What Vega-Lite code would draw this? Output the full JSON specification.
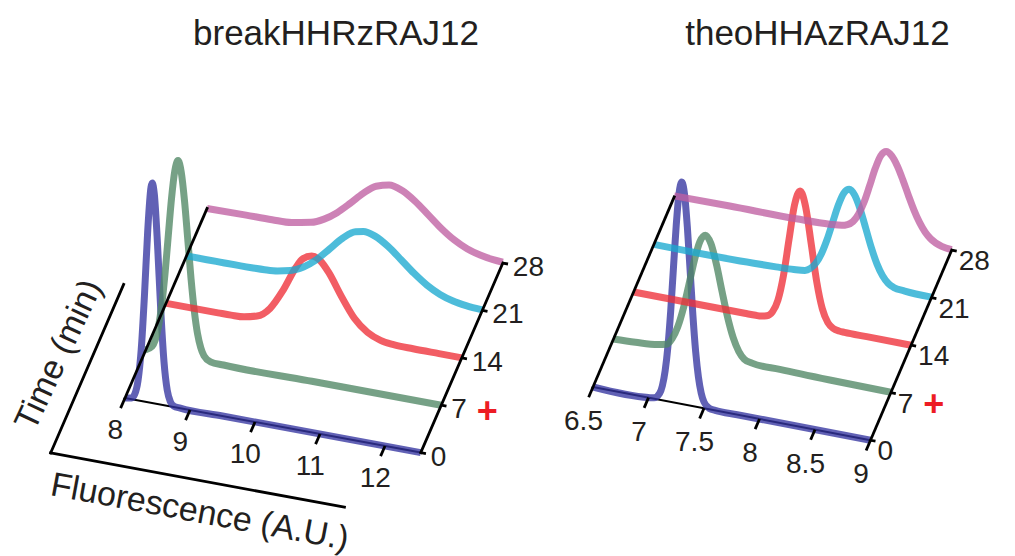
{
  "$schema": "https://vega.github.io/schema/vega-lite/v6.json",
  "padding": {"left": 0, "right": 0, "top": 17, "bottom": 0},
  "background": "white",
  "spacing": 0,
  "config": {
    "view": {"stroke": null},
    "title": {"font": "Liberation Sans", "fontSize": 35, "fontWeight": "normal", "color": "#231f20", "anchor": "middle", "offset": 3},
    "text": {"font": "Liberation Sans", "color": "#231f20"}
  },
  "datasets": {
    "curvesL": [
      {"t":0,"F":8.0,"d":0},{"t":0,"F":8.1,"d":0.026},{"t":0,"F":8.15,"d":0.114},{"t":0,"F":8.2,"d":0.392},{"t":0,"F":8.25,"d":1.038},{"t":0,"F":8.3,"d":2.14},{"t":0,"F":8.35,"d":3.44},{"t":0,"F":8.4,"d":4.31},{"t":0,"F":8.42,"d":4.4},{"t":0,"F":8.45,"d":4.2},{"t":0,"F":8.5,"d":3.2},{"t":0,"F":8.55,"d":1.89},{"t":0,"F":8.6,"d":0.87},{"t":0,"F":8.65,"d":0.31},{"t":0,"F":8.7,"d":0.088},{"t":0,"F":8.75,"d":0.019},{"t":0,"F":8.85,"d":0},{"t":0,"F":9.5,"d":0},{"t":0,"F":12.55,"d":0},
      {"t":7,"F":8.0,"d":0.016},{"t":7,"F":8.1,"d":0.11},{"t":7,"F":8.2,"d":0.53},{"t":7,"F":8.25,"d":0.98},{"t":7,"F":8.3,"d":1.61},{"t":7,"F":8.35,"d":2.38},{"t":7,"F":8.4,"d":3.14},{"t":7,"F":8.45,"d":3.7},{"t":7,"F":8.5,"d":3.92},{"t":7,"F":8.55,"d":3.7},{"t":7,"F":8.6,"d":3.14},{"t":7,"F":8.65,"d":2.38},{"t":7,"F":8.7,"d":1.61},{"t":7,"F":8.75,"d":0.98},{"t":7,"F":8.8,"d":0.53},{"t":7,"F":8.85,"d":0.26},{"t":7,"F":8.9,"d":0.11},{"t":7,"F":9.0,"d":0.016},{"t":7,"F":9.2,"d":0},{"t":7,"F":10.5,"d":0},{"t":7,"F":12.55,"d":0},
      {"t":14,"F":8.0,"d":0},{"t":14,"F":8.8,"d":0},{"t":14,"F":9.0,"d":0.002},{"t":14,"F":9.2,"d":0.016},{"t":14,"F":9.4,"d":0.08},{"t":14,"F":9.6,"d":0.28},{"t":14,"F":9.8,"d":0.69},{"t":14,"F":10.0,"d":1.2},{"t":14,"F":10.1,"d":1.39},{"t":14,"F":10.24,"d":1.48},{"t":14,"F":10.38,"d":1.41},{"t":14,"F":10.5,"d":1.22},{"t":14,"F":10.7,"d":0.78},{"t":14,"F":10.9,"d":0.39},{"t":14,"F":11.1,"d":0.16},{"t":14,"F":11.3,"d":0.05},{"t":14,"F":11.5,"d":0.012},{"t":14,"F":11.8,"d":0.001},{"t":14,"F":12.2,"d":0},{"t":14,"F":12.55,"d":0},
      {"t":21,"F":8.0,"d":0},{"t":21,"F":9.0,"d":0.003},{"t":21,"F":9.2,"d":0.011},{"t":21,"F":9.4,"d":0.035},{"t":21,"F":9.6,"d":0.092},{"t":21,"F":9.8,"d":0.21},{"t":21,"F":10.0,"d":0.404},{"t":21,"F":10.2,"d":0.664},{"t":21,"F":10.4,"d":0.928},{"t":21,"F":10.6,"d":1.108},{"t":21,"F":10.72,"d":1.14},{"t":21,"F":10.9,"d":1.09},{"t":21,"F":11.1,"d":0.932},{"t":21,"F":11.3,"d":0.714},{"t":21,"F":11.5,"d":0.49},{"t":21,"F":11.7,"d":0.3},{"t":21,"F":11.9,"d":0.164},{"t":21,"F":12.1,"d":0.08},{"t":21,"F":12.3,"d":0.036},{"t":21,"F":12.55,"d":0.01},
      {"t":28,"F":8.0,"d":0},{"t":28,"F":8.6,"d":0.01},{"t":28,"F":9.0,"d":0.015},{"t":28,"F":9.3,"d":0.03},{"t":28,"F":9.6,"d":0.106},{"t":28,"F":9.8,"d":0.218},{"t":28,"F":10.0,"d":0.396},{"t":28,"F":10.2,"d":0.628},{"t":28,"F":10.4,"d":0.876},{"t":28,"F":10.6,"d":1.068},{"t":28,"F":10.8,"d":1.14},{"t":28,"F":11.0,"d":1.078},{"t":28,"F":11.2,"d":0.912},{"t":28,"F":11.4,"d":0.692},{"t":28,"F":11.6,"d":0.468},{"t":28,"F":11.8,"d":0.284},{"t":28,"F":12.0,"d":0.154},{"t":28,"F":12.2,"d":0.076},{"t":28,"F":12.4,"d":0.032},{"t":28,"F":12.55,"d":0.016}
    ],
    "curvesR": [
      {"t":0,"F":6.5,"d":0},{"t":0,"F":7.0,"d":0.0014},{"t":0,"F":7.05,"d":0.017},{"t":0,"F":7.1,"d":0.126},{"t":0,"F":7.125,"d":0.292},{"t":0,"F":7.15,"d":0.6},{"t":0,"F":7.175,"d":1.1},{"t":0,"F":7.2,"d":1.82},{"t":0,"F":7.225,"d":2.7},{"t":0,"F":7.25,"d":3.56},{"t":0,"F":7.275,"d":4.2},{"t":0,"F":7.3,"d":4.44},{"t":0,"F":7.325,"d":4.2},{"t":0,"F":7.35,"d":3.56},{"t":0,"F":7.375,"d":2.7},{"t":0,"F":7.4,"d":1.82},{"t":0,"F":7.425,"d":1.1},{"t":0,"F":7.45,"d":0.6},{"t":0,"F":7.475,"d":0.292},{"t":0,"F":7.5,"d":0.126},{"t":0,"F":7.55,"d":0.017},{"t":0,"F":7.6,"d":0.0014},{"t":0,"F":7.8,"d":0},{"t":0,"F":9.0,"d":0},
      {"t":7,"F":6.5,"d":0.01},{"t":7,"F":6.7,"d":0.03},{"t":7,"F":6.9,"d":0.07},{"t":7,"F":6.98,"d":0.11},{"t":7,"F":7.03,"d":0.244},{"t":7,"F":7.08,"d":0.496},{"t":7,"F":7.13,"d":0.88},{"t":7,"F":7.18,"d":1.374},{"t":7,"F":7.23,"d":1.89},{"t":7,"F":7.28,"d":2.29},{"t":7,"F":7.33,"d":2.44},{"t":7,"F":7.38,"d":2.29},{"t":7,"F":7.43,"d":1.89},{"t":7,"F":7.48,"d":1.374},{"t":7,"F":7.53,"d":0.88},{"t":7,"F":7.58,"d":0.496},{"t":7,"F":7.63,"d":0.244},{"t":7,"F":7.68,"d":0.108},{"t":7,"F":7.75,"d":0.06},{"t":7,"F":8.0,"d":0.04},{"t":7,"F":8.45,"d":0.02},{"t":7,"F":9.0,"d":0.01},
      {"t":14,"F":6.5,"d":0},{"t":14,"F":7.5,"d":0},{"t":14,"F":7.6,"d":0.001},{"t":14,"F":7.65,"d":0.007},{"t":14,"F":7.7,"d":0.035},{"t":14,"F":7.75,"d":0.132},{"t":14,"F":7.8,"d":0.388},{"t":14,"F":7.85,"d":0.902},{"t":14,"F":7.9,"d":1.644},{"t":14,"F":7.95,"d":2.36},{"t":14,"F":8.0,"d":2.66},{"t":14,"F":8.05,"d":2.36},{"t":14,"F":8.1,"d":1.644},{"t":14,"F":8.15,"d":0.902},{"t":14,"F":8.2,"d":0.388},{"t":14,"F":8.25,"d":0.132},{"t":14,"F":8.3,"d":0.035},{"t":14,"F":8.35,"d":0.007},{"t":14,"F":8.4,"d":0.001},{"t":14,"F":8.6,"d":0},{"t":14,"F":9.0,"d":0},
      {"t":21,"F":6.5,"d":0},{"t":21,"F":7.4,"d":0.006},{"t":21,"F":7.6,"d":0.02},{"t":21,"F":7.76,"d":0.036},{"t":21,"F":7.86,"d":0.06},{"t":21,"F":7.91,"d":0.122},{"t":21,"F":7.96,"d":0.25},{"t":21,"F":8.01,"d":0.462},{"t":21,"F":8.06,"d":0.762},{"t":21,"F":8.11,"d":1.124},{"t":21,"F":8.16,"d":1.484},{"t":21,"F":8.21,"d":1.752},{"t":21,"F":8.26,"d":1.852},{"t":21,"F":8.31,"d":1.752},{"t":21,"F":8.36,"d":1.484},{"t":21,"F":8.41,"d":1.124},{"t":21,"F":8.46,"d":0.762},{"t":21,"F":8.51,"d":0.462},{"t":21,"F":8.56,"d":0.25},{"t":21,"F":8.61,"d":0.122},{"t":21,"F":8.66,"d":0.06},{"t":21,"F":8.76,"d":0.03},{"t":21,"F":9.0,"d":0.01},
      {"t":28,"F":6.5,"d":0.02},{"t":28,"F":7.0,"d":0.03},{"t":28,"F":7.6,"d":0.03},{"t":28,"F":7.9,"d":0.05},{"t":28,"F":8.01,"d":0.074},{"t":28,"F":8.06,"d":0.11},{"t":28,"F":8.11,"d":0.192},{"t":28,"F":8.16,"d":0.36},{"t":28,"F":8.21,"d":0.62},{"t":28,"F":8.26,"d":0.968},{"t":28,"F":8.31,"d":1.332},{"t":28,"F":8.36,"d":1.614},{"t":28,"F":8.41,"d":1.72},{"t":28,"F":8.46,"d":1.654},{"t":28,"F":8.51,"d":1.474},{"t":28,"F":8.56,"d":1.216},{"t":28,"F":8.61,"d":0.928},{"t":28,"F":8.66,"d":0.656},{"t":28,"F":8.71,"d":0.43},{"t":28,"F":8.76,"d":0.26},{"t":28,"F":8.81,"d":0.146},{"t":28,"F":8.91,"d":0.036},{"t":28,"F":9.0,"d":0.008}
    ],
    "axisL": [
      {"part":"front","F":8,"t":0,"F2":12.55,"t2":0},
      {"part":"time","F":8,"t":0,"F2":8,"t2":28},
      {"part":"time","F":12.55,"t":0,"F2":12.55,"t2":28},
      {"part":"title","F":7.28,"t":-9.4,"F2":11.8,"t2":-9.4},
      {"part":"title","F":7.28,"t":-9.4,"F2":7.28,"t2":15.5}
    ],
    "axisR": [
      {"part":"front","F":6.5,"t":0,"F2":9.0,"t2":0},
      {"part":"time","F":6.5,"t":0,"F2":6.5,"t2":28},
      {"part":"time","F":9.0,"t":0,"F2":9.0,"t2":28}
    ],
    "fticksL": [{"F":8},{"F":9},{"F":10},{"F":11},{"F":12}],
    "fticksR": [{"F":6.5},{"F":7},{"F":7.5},{"F":8},{"F":8.5},{"F":9}],
    "tticksL": [{"t":0,"F":12.55},{"t":7,"F":12.55},{"t":14,"F":12.55},{"t":21,"F":12.55},{"t":28,"F":12.55}],
    "tticksR": [{"t":0,"F":9.0},{"t":7,"F":9.0},{"t":14,"F":9.0},{"t":21,"F":9.0},{"t":28,"F":9.0}],
    "markL": [{"t":7,"F":12.55,"symbol":"+"}],
    "markR": [{"t":7,"F":9.0,"symbol":"+"}],
    "axisTitlesL": [
      {"label":"Time (min)","F":6.8,"t":4.2},
      {"label":"Fluorescence (A.U.)","F":9.77,"t":-13.8}
    ]
  },
  "hconcat": [
    {
      "width": 550,
      "height": 500,
      "title": {"text": "breakHHRzRAJ12", "dx": 61},
      "encoding": {
        "x": {"field": "px", "type": "quantitative", "axis": null, "scale": {"domain": [6.0769, 14.5385], "nice": false, "zero": false}},
        "y": {"field": "py", "type": "quantitative", "axis": null, "scale": {"domain": [-3.14, 6.86], "nice": false, "zero": false}}
      },
      "layer": [
        {
          "data": {"name": "axisL"},
          "transform": [
            {"filter": "datum.part == 'front'"},
            {"calculate": "datum.F + 0.0451*datum.t", "as": "px"},
            {"calculate": "-0.24*(datum.F-8) + 0.1354*datum.t", "as": "py"},
            {"calculate": "datum.F2 + 0.0451*datum.t2", "as": "px2"},
            {"calculate": "-0.24*(datum.F2-8) + 0.1354*datum.t2", "as": "py2"}
          ],
          "mark": {"type": "rule", "color": "black", "strokeWidth": 2},
          "encoding": {"x2": {"field": "px2"}, "y2": {"field": "py2"}}
        },
        {
          "data": {"name": "curvesL"},
          "transform": [
            {"calculate": "datum.F + 0.0451*datum.t", "as": "px"},
            {"calculate": "datum.d - 0.24*(datum.F-8) + 0.1354*datum.t", "as": "py"}
          ],
          "mark": {"type": "line", "strokeWidth": 7, "opacity": 0.78, "interpolate": "monotone"},
          "encoding": {
            "color": {"field": "t", "type": "nominal", "legend": null, "scale": {"domain": [0, 7, 14, 21, 28], "range": ["#3535a0", "#4f8764", "#ee3039", "#1ba9cf", "#bf5fa2"]}}
          }
        },
        {
          "data": {"name": "axisL"},
          "transform": [
            {"filter": "datum.part != 'front'"},
            {"calculate": "datum.F + 0.0451*datum.t", "as": "px"},
            {"calculate": "-0.24*(datum.F-8) + 0.1354*datum.t", "as": "py"},
            {"calculate": "datum.F2 + 0.0451*datum.t2", "as": "px2"},
            {"calculate": "-0.24*(datum.F2-8) + 0.1354*datum.t2", "as": "py2"}
          ],
          "mark": {"type": "rule", "color": "black", "strokeWidth": 2.8, "strokeCap": "square"},
          "encoding": {"x2": {"field": "px2"}, "y2": {"field": "py2"}}
        },
        {
          "data": {"name": "fticksL"},
          "transform": [
            {"calculate": "datum.F", "as": "px"},
            {"calculate": "-0.24*(datum.F-8)", "as": "py"},
            {"calculate": "datum.F - 1.5*0.0451", "as": "px2"},
            {"calculate": "-0.24*(datum.F-8) - 1.5*0.1354", "as": "py2"}
          ],
          "mark": {"type": "rule", "color": "black", "strokeWidth": 2.8},
          "encoding": {"x2": {"field": "px2"}, "y2": {"field": "py2"}}
        },
        {
          "data": {"name": "tticksL"},
          "transform": [
            {"calculate": "datum.F + 0.0451*datum.t", "as": "px"},
            {"calculate": "-0.24*(datum.F-8) + 0.1354*datum.t", "as": "py"},
            {"calculate": "datum.F + 0.08 + 0.0451*datum.t", "as": "px2"},
            {"calculate": "-0.24*(datum.F+0.08-8) + 0.1354*datum.t", "as": "py2"}
          ],
          "mark": {"type": "rule", "color": "black", "strokeWidth": 2.8},
          "encoding": {"x2": {"field": "px2"}, "y2": {"field": "py2"}}
        },
        {
          "data": {"name": "fticksL"},
          "transform": [
            {"calculate": "datum.F - 5*0.0451", "as": "px"},
            {"calculate": "-0.24*(datum.F-8) - 5*0.1354", "as": "py"}
          ],
          "mark": {"type": "text", "fontSize": 28, "align": "center", "baseline": "middle", "dx": 5, "dy": -1},
          "encoding": {"text": {"field": "F", "type": "nominal"}}
        },
        {
          "data": {"name": "tticksL"},
          "transform": [
            {"calculate": "datum.F + 0.0451*datum.t", "as": "px"},
            {"calculate": "-0.24*(datum.F-8) + 0.1354*datum.t", "as": "py"}
          ],
          "mark": {"type": "text", "fontSize": 28, "align": "left", "baseline": "middle", "dx": 10, "dy": 5},
          "encoding": {"text": {"field": "t", "type": "nominal"}}
        },
        {
          "data": {"name": "markL"},
          "transform": [
            {"calculate": "datum.F + 0.0451*datum.t", "as": "px"},
            {"calculate": "-0.24*(datum.F-8) + 0.1354*datum.t", "as": "py"}
          ],
          "mark": {"type": "text", "fontSize": 36, "fontWeight": "bold", "color": "#ed1c24", "align": "center", "baseline": "middle", "dx": 46, "dy": 7},
          "encoding": {"text": {"field": "symbol", "type": "nominal"}}
        },
        {
          "data": {"name": "axisTitlesL"},
          "transform": [
            {"filter": "datum.label == 'Time (min)'"},
            {"calculate": "datum.F + 0.0451*datum.t", "as": "px"},
            {"calculate": "-0.24*(datum.F-8) + 0.1354*datum.t", "as": "py"}
          ],
          "mark": {"type": "text", "fontSize": 34, "align": "center", "baseline": "middle", "angle": 295},
          "encoding": {"text": {"field": "label", "type": "nominal"}}
        },
        {
          "data": {"name": "axisTitlesL"},
          "transform": [
            {"filter": "datum.label != 'Time (min)'"},
            {"calculate": "datum.F + 0.0451*datum.t", "as": "px"},
            {"calculate": "-0.24*(datum.F-8) + 0.1354*datum.t", "as": "py"}
          ],
          "mark": {"type": "text", "fontSize": 34, "align": "center", "baseline": "middle", "angle": 10.5},
          "encoding": {"text": {"field": "label", "type": "nominal"}}
        }
      ]
    },
    {
      "width": 465,
      "height": 500,
      "title": {"text": "theoHHAzRAJ12", "dx": 35},
      "encoding": {
        "x": {"field": "px", "type": "quantitative", "axis": null, "scale": {"domain": [6.1126, 10.3018], "nice": false, "zero": false}},
        "y": {"field": "py", "type": "quantitative", "axis": null, "scale": {"domain": [-3.36, 6.64], "nice": false, "zero": false}}
      },
      "layer": [
        {
          "data": {"name": "axisR"},
          "transform": [
            {"filter": "datum.part == 'front'"},
            {"calculate": "datum.F + 0.02613*datum.t", "as": "px"},
            {"calculate": "-0.426*(datum.F-6.5) + 0.1358*datum.t", "as": "py"},
            {"calculate": "datum.F2 + 0.02613*datum.t2", "as": "px2"},
            {"calculate": "-0.426*(datum.F2-6.5) + 0.1358*datum.t2", "as": "py2"}
          ],
          "mark": {"type": "rule", "color": "black", "strokeWidth": 2},
          "encoding": {"x2": {"field": "px2"}, "y2": {"field": "py2"}}
        },
        {
          "data": {"name": "curvesR"},
          "transform": [
            {"calculate": "datum.F + 0.02613*datum.t", "as": "px"},
            {"calculate": "datum.d - 0.426*(datum.F-6.5) + 0.1358*datum.t", "as": "py"}
          ],
          "mark": {"type": "line", "strokeWidth": 7, "opacity": 0.78, "interpolate": "monotone"},
          "encoding": {
            "color": {"field": "t", "type": "nominal", "legend": null, "scale": {"domain": [0, 7, 14, 21, 28], "range": ["#3535a0", "#4f8764", "#ee3039", "#1ba9cf", "#bf5fa2"]}}
          }
        },
        {
          "data": {"name": "axisR"},
          "transform": [
            {"filter": "datum.part != 'front'"},
            {"calculate": "datum.F + 0.02613*datum.t", "as": "px"},
            {"calculate": "-0.426*(datum.F-6.5) + 0.1358*datum.t", "as": "py"},
            {"calculate": "datum.F2 + 0.02613*datum.t2", "as": "px2"},
            {"calculate": "-0.426*(datum.F2-6.5) + 0.1358*datum.t2", "as": "py2"}
          ],
          "mark": {"type": "rule", "color": "black", "strokeWidth": 2.8, "strokeCap": "square"},
          "encoding": {"x2": {"field": "px2"}, "y2": {"field": "py2"}}
        },
        {
          "data": {"name": "fticksR"},
          "transform": [
            {"calculate": "datum.F", "as": "px"},
            {"calculate": "-0.426*(datum.F-6.5)", "as": "py"},
            {"calculate": "datum.F - 1.5*0.02613", "as": "px2"},
            {"calculate": "-0.426*(datum.F-6.5) - 1.5*0.1358", "as": "py2"}
          ],
          "mark": {"type": "rule", "color": "black", "strokeWidth": 2.8},
          "encoding": {"x2": {"field": "px2"}, "y2": {"field": "py2"}}
        },
        {
          "data": {"name": "tticksR"},
          "transform": [
            {"calculate": "datum.F + 0.02613*datum.t", "as": "px"},
            {"calculate": "-0.426*(datum.F-6.5) + 0.1358*datum.t", "as": "py"},
            {"calculate": "datum.F + 0.045 + 0.02613*datum.t", "as": "px2"},
            {"calculate": "-0.426*(datum.F+0.045-6.5) + 0.1358*datum.t", "as": "py2"}
          ],
          "mark": {"type": "rule", "color": "black", "strokeWidth": 2.8},
          "encoding": {"x2": {"field": "px2"}, "y2": {"field": "py2"}}
        },
        {
          "data": {"name": "fticksR"},
          "transform": [
            {"calculate": "datum.F - 5*0.02613", "as": "px"},
            {"calculate": "-0.426*(datum.F-6.5) - 5*0.1358", "as": "py"}
          ],
          "mark": {"type": "text", "fontSize": 28, "align": "center", "baseline": "middle", "dx": 5, "dy": 1},
          "encoding": {"text": {"field": "F", "type": "nominal"}}
        },
        {
          "data": {"name": "tticksR"},
          "transform": [
            {"calculate": "datum.F + 0.02613*datum.t", "as": "px"},
            {"calculate": "-0.426*(datum.F-6.5) + 0.1358*datum.t", "as": "py"}
          ],
          "mark": {"type": "text", "fontSize": 28, "align": "left", "baseline": "middle", "dx": 7, "dy": 12},
          "encoding": {"text": {"field": "t", "type": "nominal"}}
        },
        {
          "data": {"name": "markR"},
          "transform": [
            {"calculate": "datum.F + 0.02613*datum.t", "as": "px"},
            {"calculate": "-0.426*(datum.F-6.5) + 0.1358*datum.t", "as": "py"}
          ],
          "mark": {"type": "text", "fontSize": 36, "fontWeight": "bold", "color": "#ed1c24", "align": "center", "baseline": "middle", "dx": 43, "dy": 12},
          "encoding": {"text": {"field": "symbol", "type": "nominal"}}
        }
      ]
    }
  ]
}
